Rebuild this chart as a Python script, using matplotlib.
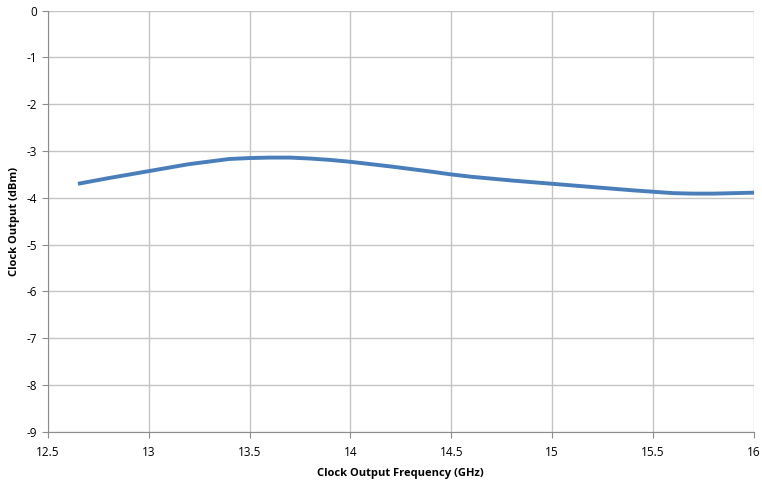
import matplotlib.pyplot as plt

# Dados
freq_ghz = [12.65, 12.8, 13.0, 13.2, 13.4, 13.5, 13.6, 13.7, 13.8, 13.9, 14.0,
            14.2, 14.4, 14.5, 14.6, 14.8, 15.0, 15.2, 15.4, 15.5, 15.6, 15.7,
            15.8, 15.9, 16.0]
saida_dbm = [-3.70, -3.58, -3.43, -3.28, -3.17, -3.15, -3.14, -3.14, -3.16, -3.19, -3.23,
             -3.33, -3.44, -3.50, -3.55, -3.63, -3.70, -3.77, -3.84, -3.87, -3.90, -3.91,
             -3.91, -3.90, -3.89]

x_ticks = [12.5, 13, 13.5, 14, 14.5, 15, 15.5, 16]
x_labels = ["12.5", "13", "13.5", "14", "14.5", "15", "15.5", "16"]
y_ticks = list(range(-9, 1))

plt.rcParams['font.family'] = ['Open Sans', 'DejaVu Sans']
plt.rcParams['axes.unicode_minus'] = False

fig = plt.figure(figsize=(7.62, 4.8), dpi=100)
ax = fig.add_axes([0.0626, 0.1006, 0.9269, 0.8771])

ax.plot(freq_ghz, saida_dbm, color="#4a7ebb", linewidth=2.8, solid_capstyle="butt")

ax.set_xlim(12.5, 16)
ax.set_ylim(-9, 0)
ax.set_xticks(x_ticks)
ax.set_xticklabels(x_labels)
ax.set_yticks(y_ticks)

ax.grid(True, color="#c4c4c4", linewidth=1.0)
ax.set_axisbelow(True)
for lado in ["top", "right"]:
    ax.spines[lado].set_visible(False)
for lado in ["left", "bottom"]:
    ax.spines[lado].set_color("#8c8c8c")
    ax.spines[lado].set_linewidth(0.8)

ax.tick_params(axis="both", labelsize=8.5, color="#8c8c8c", length=4, width=0.8)
ax.tick_params(axis="x", pad=6)

ax.set_xlabel("Clock Output Frequency (GHz)", fontsize=8, fontweight="bold", labelpad=7)
ax.set_ylabel("Clock Output (dBm)", fontsize=8, fontweight="bold", labelpad=5)

fig.savefig("out.png", dpi=100)
